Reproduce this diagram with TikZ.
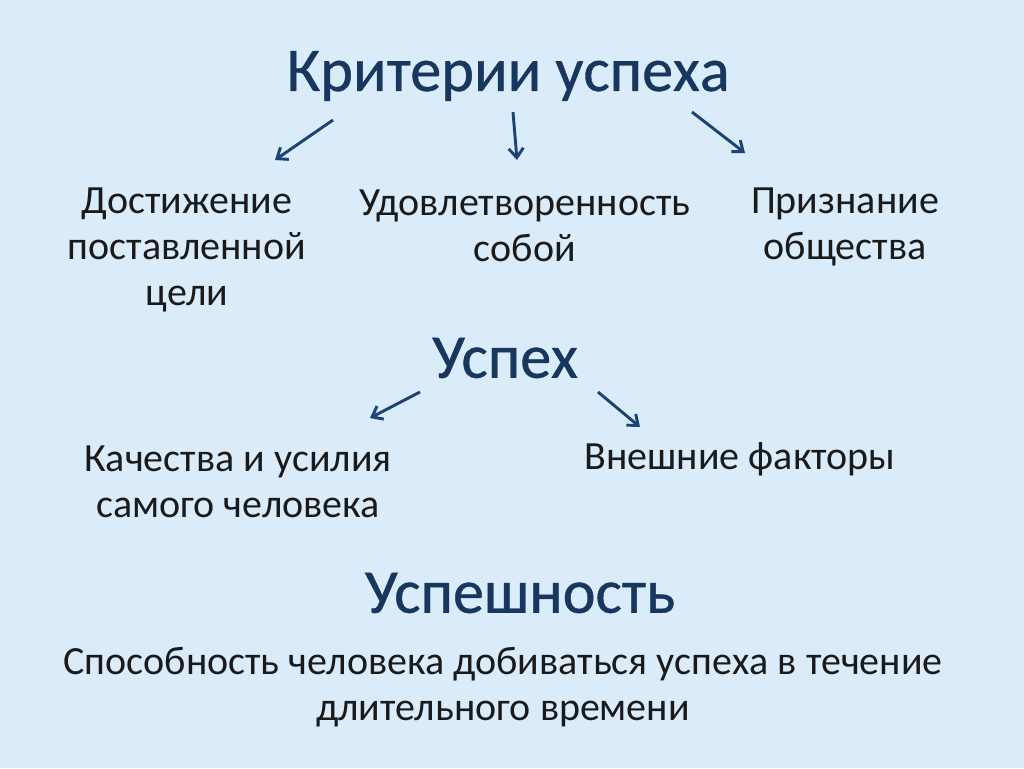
\documentclass[tikz,border=0pt]{standalone}
\usepackage{fontspec}
\setmainfont{Carlito}
\newfontfamily\headfont[FakeBold=0.6]{Carlito}
\usetikzlibrary{arrows.meta}
\definecolor{bg}{HTML}{DAEBFA}
\definecolor{head}{HTML}{17375E}
\definecolor{body}{HTML}{1A1A1A}
\definecolor{arr}{HTML}{1D4373}
\tikzset{
  headtxt/.style={font=\headfont\fontsize{46.7}{56}\selectfont, text=head, inner sep=0pt},
  bodytxt/.style={font=\fontsize{30}{34.5}\selectfont, text=body, align=center, inner sep=0pt},
  arrline/.style={draw=arr, line width=2.2pt, -{Straight Barb[length=7pt,width=11pt,line width=2.2pt]}}
}
\begin{document}
\begin{tikzpicture}[x=0.75pt,y=-0.75pt]
\fill[bg] (0,0) rectangle (1024,768);
\useasboundingbox (0,0) rectangle (1024,768);
% headings
\node[headtxt] (h1) at (508,76) {Критерии успеха};
\node[headtxt] (h2) at (505,358) {Успех};
\node[headtxt] (h3) at (520,593) {Успешность};
% body texts
\node[bodytxt] (a1) at (187,250) {Достижение\\поставленной\\цели};
\node[bodytxt] (a2) at (525,226) {Удовлетворенность\\собой};
\node[bodytxt] (a3) at (845,227) {Признание\\общества};
\node[bodytxt] (b1) at (238,482) {Качества и усилия\\самого человека};
\node[bodytxt] (b2) at (740,459) {Внешние факторы};
\node[bodytxt] (c1) at (503,687) {Способность человека добиваться успеха в течение\\длительного времени};
% arrows
\coordinate (s1) at (333,120); \coordinate (e1) at (275,160);
\coordinate (s2) at (513,112); \coordinate (e2) at (517,160);
\coordinate (s3) at (692,112); \coordinate (e3) at (745,153);
\coordinate (s4) at (420,392); \coordinate (e4) at (370,418);
\coordinate (s5) at (598,392); \coordinate (e5) at (640,427);
\draw[arrline] (s1) -- (e1);
\draw[arrline] (s2) -- (e2);
\draw[arrline] (s3) -- (e3);
\draw[arrline] (s4) -- (e4);
\draw[arrline] (s5) -- (e5);
\end{tikzpicture}
\end{document}
